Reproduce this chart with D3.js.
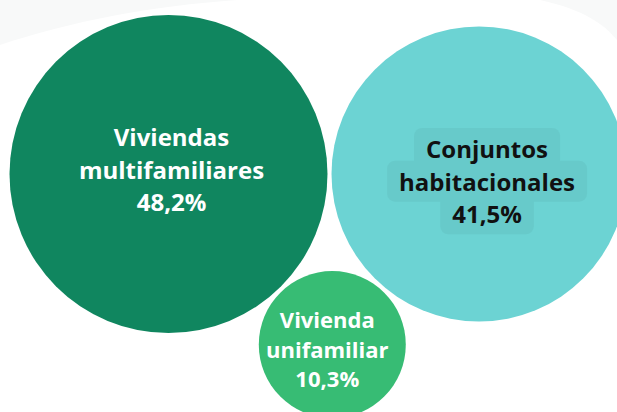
<!DOCTYPE html>
<html>
<head>
<meta charset="utf-8">
<script src="https://cdn.jsdelivr.net/npm/d3@7"></script>
<style>
  html, body { margin: 0; padding: 0; background: #fff; }
  svg { display: block; }
</style>
</head>
<body>
<div id="container"></div>
<script>
/* DATA */
const categories = ["Viviendas multifamiliares", "Conjuntos habitacionales", "Vivienda unifamiliar"]
const shares = [48.2, 41.5, 10.3]
const labelLines = [["Viviendas", "multifamiliares"], ["Conjuntos", "habitacionales"], ["Vivienda", "unifamiliar"]]

/* CONSTANTS */
const width = 617,
  height = 412,
  margin = { top: 15, left: 9.5 },
  padding = 4

const colors = ["#10865f", "#6cd3d3", "#37bc74"]
const textColors = ["#ffffff", "#111111", "#ffffff"]
const fontSizes = [24, 24, 22]
// small nudges of the label blocks inside their bubbles
const labelNudge = [[3, -4], [8, 8], [-5, 5]]

const svg = d3.select("#container")
  .append("svg")
  .attr("width", width)
  .attr("height", height)

// faint background swooshes
svg.append("path")
  .attr("d", "M0,45 C120,5 260,-10 420,0 L0,0 Z")
  .attr("fill", "#f8f9f9")
svg.append("path")
  .attr("d", "M540,0 C585,10 605,25 617,40 L617,0 Z")
  .attr("fill", "#f8f9f9")

const rScale = d3.scaleSqrt()
  .domain([0, d3.max(shares)])
  .range([0, 159])

const fmt = v => d3.format(".1f")(v).replace(".", ",") + "%"

// bubbles laid out as touching siblings
const nodes = shares.map((v, i) => ({ i, value: v, r: rScale(v) + padding / 2 }))
d3.packSiblings(nodes)

const first = nodes[0]
const tx = margin.left + rScale(shares[0]) - first.x
const ty = margin.top + rScale(shares[0]) - first.y

const g = svg.append("g")
  .attr("transform", `translate(${tx},${ty})`)

g.selectAll("circle.bubble")
  .data(nodes)
  .join("circle")
  .attr("class", "bubble")
  .attr("cx", d => d.x)
  .attr("cy", d => d.y)
  .attr("r", d => rScale(d.value))
  .attr("fill", d => colors[d.i])

const labels = g.selectAll("g.label")
  .data(nodes)
  .join("g")
  .attr("class", "label")
  .attr("transform", d => `translate(${d.x + labelNudge[d.i][0]},${d.y + labelNudge[d.i][1]})`)

labels.each(function(d) {
  const lines = labelLines[d.i].concat([fmt(d.value)])
  const fs = fontSizes[d.i]
  const lh = fs * 1.36
  const sel = d3.select(this)
  const bg = sel.append("g").attr("opacity", 0.035)
  const texts = sel.selectAll("text")
    .data(lines)
    .join("text")
    .attr("x", 0)
    .attr("y", (t, k) => (k - 1) * lh + fs * 0.36)
    .attr("text-anchor", "middle")
    .attr("font-family", "'Open Sans', 'Noto Sans', sans-serif")
    .attr("font-weight", 700)
    .attr("font-size", fs)
    .attr("fill", textColors[d.i])
    .text(t => t)

  // soft text background for the light bubble
  if (d.i === 1) {
    texts.each(function() {
      const b = this.getBBox()
      bg.append("rect")
        .attr("x", b.x - 12)
        .attr("y", b.y - 4)
        .attr("width", b.width + 24)
        .attr("height", b.height + 8)
        .attr("rx", 8)
        .attr("fill", "#000")
    })
  }
})
</script>
</body>
</html>
